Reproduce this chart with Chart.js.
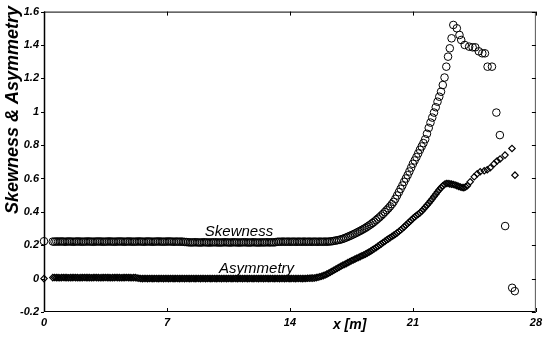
<!DOCTYPE html>
<html>
<head>
<meta charset="utf-8">
<script src="https://cdn.jsdelivr.net/npm/chart.js@4.4.1/dist/chart.umd.min.js"></script>
<style>
  html, body { margin: 0; padding: 0; background: #ffffff; }
  #wrap { width: 546px; height: 337px; }
</style>
</head>
<body>
<div id="wrap"><canvas id="c" width="546" height="337"></canvas></div>
<script>
// ---- data ----
const xTicks = [0, 7, 14, 21, 28];
const yTicks = [-0.2, 0, 0.2, 0.4, 0.6, 0.8, 1, 1.2, 1.4, 1.6];

// dense measuring stations (m), shared by both series
const stations = [
  0,
  0.5, 0.6, 0.7, 0.8, 0.9, 1.0, 1.1, 1.2, 1.3, 1.4,
  1.5, 1.6, 1.7, 1.8, 1.9, 2.0, 2.1, 2.2, 2.3, 2.4,
  2.5, 2.6, 2.7, 2.8, 2.9, 3.0, 3.1, 3.2, 3.3, 3.4,
  3.5, 3.6, 3.7, 3.8, 3.9, 4.0, 4.1, 4.2, 4.3, 4.4,
  4.5, 4.6, 4.7, 4.8, 4.9, 5.0, 5.1, 5.2, 5.3, 5.4,
  5.5, 5.6, 5.7, 5.8, 5.9, 6.0, 6.1, 6.2, 6.3, 6.4,
  6.5, 6.6, 6.7, 6.8, 6.9, 7.0, 7.1, 7.2, 7.3, 7.4,
  7.5, 7.6, 7.7, 7.8, 7.9, 8.0, 8.1, 8.2, 8.3, 8.4,
  8.5, 8.6, 8.7, 8.8, 8.9, 9.0, 9.1, 9.2, 9.3, 9.4,
  9.5, 9.6, 9.7, 9.8, 9.9, 10.0, 10.1, 10.2, 10.3, 10.4,
  10.5, 10.6, 10.7, 10.8, 10.9, 11.0, 11.1, 11.2, 11.3, 11.4,
  11.5, 11.6, 11.7, 11.8, 11.9, 12.0, 12.1, 12.2, 12.3, 12.4,
  12.5, 12.6, 12.7, 12.8, 12.9, 13.0, 13.1, 13.2, 13.3, 13.4,
  13.5, 13.6, 13.7, 13.8, 13.9, 14.0, 14.1, 14.2, 14.3, 14.4,
  14.5, 14.6, 14.7, 14.8, 14.9, 15.0, 15.1, 15.2, 15.3, 15.4,
  15.5, 15.6, 15.7, 15.8, 15.9, 16.0, 16.1, 16.2, 16.3, 16.4,
  16.5, 16.6, 16.7, 16.8, 16.9, 17.0, 17.1, 17.2, 17.3, 17.4,
  17.5, 17.6, 17.7, 17.8, 17.9, 18.0, 18.1, 18.2, 18.3, 18.4,
  18.5, 18.6, 18.7, 18.8, 18.9, 19.0, 19.1, 19.2, 19.3, 19.4,
  19.5, 19.6, 19.7, 19.8, 19.9, 20.0, 20.1, 20.2, 20.3, 20.4,
  20.5, 20.6, 20.7, 20.8, 20.9, 21.0, 21.1, 21.2, 21.3, 21.4,
  21.5, 21.6, 21.7, 21.8, 21.9, 22.0, 22.1, 22.2, 22.3, 22.4,
  22.5, 22.6, 22.7, 22.8, 22.9, 23.0, 23.1, 23.2, 23.3
];

const skewness = [
  0.224,
  0.222, 0.221, 0.223, 0.222, 0.222, 0.223, 0.222, 0.221, 0.222, 0.223,
  0.222, 0.222, 0.221, 0.222, 0.223, 0.222, 0.222, 0.221, 0.222, 0.222,
  0.223, 0.222, 0.222, 0.221, 0.222, 0.222, 0.223, 0.222, 0.222, 0.221,
  0.222, 0.222, 0.223, 0.222, 0.222, 0.221, 0.222, 0.222, 0.223, 0.222,
  0.222, 0.221, 0.222, 0.223, 0.222, 0.222, 0.221, 0.222, 0.222, 0.223,
  0.222, 0.222, 0.221, 0.222, 0.223, 0.222, 0.222, 0.221, 0.222, 0.222,
  0.223, 0.222, 0.222, 0.221, 0.222, 0.222, 0.223, 0.222, 0.222, 0.221,
  0.222, 0.222, 0.221, 0.222, 0.221, 0.220, 0.219, 0.218, 0.217, 0.217,
  0.217, 0.218, 0.217, 0.217, 0.216, 0.217, 0.218, 0.217, 0.217, 0.216,
  0.217, 0.217, 0.218, 0.217, 0.217, 0.216, 0.217, 0.217, 0.218, 0.217,
  0.217, 0.216, 0.217, 0.218, 0.217, 0.217, 0.216, 0.217, 0.217, 0.218,
  0.217, 0.217, 0.216, 0.217, 0.218, 0.217, 0.217, 0.216, 0.217, 0.217,
  0.217, 0.217, 0.218, 0.217, 0.217, 0.218, 0.217, 0.219, 0.221, 0.221,
  0.221, 0.222, 0.221, 0.221, 0.222, 0.221, 0.221, 0.222, 0.221, 0.221,
  0.222, 0.221, 0.221, 0.222, 0.221, 0.221, 0.222, 0.221, 0.221, 0.222,
  0.221, 0.221, 0.222, 0.221, 0.221, 0.222, 0.221, 0.222, 0.223, 0.224,
  0.226, 0.228, 0.230, 0.232, 0.235, 0.238, 0.242, 0.246, 0.251, 0.255,
  0.260, 0.265, 0.270, 0.275, 0.281, 0.286, 0.292, 0.298, 0.304, 0.311,
  0.318, 0.325, 0.333, 0.341, 0.350, 0.359, 0.368, 0.378, 0.388, 0.399,
  0.410, 0.421, 0.433, 0.446, 0.460, 0.478, 0.498, 0.518, 0.538, 0.558,
  0.580, 0.600, 0.620, 0.642, 0.665, 0.688, 0.708, 0.728, 0.750, 0.772,
  0.792, 0.812, 0.835, 0.868, 0.903, 0.935, 0.965, 0.995, 1.027, 1.060,
  1.090, 1.120, 1.160, 1.205, 1.270, 1.330, 1.380, 1.440, 1.520
];

const asymmetry = [
  0.000,
  0.006, 0.007, 0.006, 0.006, 0.005, 0.006, 0.007, 0.006, 0.006, 0.005,
  0.006, 0.006, 0.007, 0.006, 0.006, 0.005, 0.006, 0.006, 0.007, 0.006,
  0.006, 0.006, 0.005, 0.006, 0.007, 0.006, 0.006, 0.005, 0.006, 0.006,
  0.007, 0.006, 0.006, 0.005, 0.006, 0.006, 0.007, 0.006, 0.006, 0.005,
  0.006, 0.006, 0.007, 0.006, 0.006, 0.005, 0.006, 0.006, 0.004, 0.002,
  0.001, 0.000, 0.001, 0.001, 0.000, 0.001, 0.001, 0.000, 0.001, 0.001,
  0.000, 0.001, 0.001, 0.000, 0.001, 0.001, 0.000, 0.001, 0.001, 0.000,
  0.001, 0.001, 0.000, 0.001, 0.001, 0.000, 0.001, 0.001, 0.000, 0.001,
  0.001, 0.000, 0.001, 0.001, 0.000, 0.001, 0.001, 0.000, 0.001, 0.001,
  0.000, 0.001, 0.001, 0.000, 0.001, 0.001, 0.000, 0.001, 0.001, 0.000,
  0.001, 0.001, 0.000, 0.001, 0.001, 0.000, 0.001, 0.001, 0.000, 0.001,
  0.001, 0.000, 0.001, 0.001, 0.000, 0.001, 0.001, 0.000, 0.001, 0.001,
  0.000, 0.001, 0.001, 0.000, 0.001, 0.001, 0.000, 0.001, 0.001, 0.000,
  0.001, 0.001, 0.000, 0.001, 0.001, 0.000, 0.001, 0.001, 0.000, 0.001,
  0.001, 0.001, 0.000, 0.001, 0.001, 0.002, 0.002, 0.003, 0.003, 0.004,
  0.006, 0.008, 0.011, 0.014, 0.018, 0.022, 0.027, 0.032, 0.038, 0.044,
  0.050, 0.056, 0.062, 0.068, 0.074, 0.080, 0.085, 0.090, 0.096, 0.101,
  0.107, 0.112, 0.117, 0.122, 0.127, 0.132, 0.137, 0.142, 0.147, 0.153,
  0.159, 0.165, 0.172, 0.179, 0.186, 0.193, 0.201, 0.208, 0.216, 0.223,
  0.231, 0.238, 0.245, 0.252, 0.259, 0.266, 0.274, 0.282, 0.291, 0.300,
  0.310, 0.320, 0.330, 0.340, 0.350, 0.360, 0.369, 0.378, 0.386, 0.394,
  0.404, 0.416, 0.428, 0.440, 0.452, 0.465, 0.478, 0.492, 0.506, 0.520,
  0.533, 0.545, 0.556, 0.565, 0.570, 0.570, 0.568, 0.566, 0.564
];

// sparser points beyond the dense stations
const skewTailX = [23.5, 23.65, 23.75, 23.95, 24.2, 24.4, 24.55, 24.75, 24.95, 25.1, 25.25, 25.5, 25.75, 25.95, 26.25, 26.65, 26.8];
const skewTailY = [1.50, 1.46, 1.43, 1.40, 1.39, 1.386, 1.386, 1.362, 1.35, 1.35, 1.27, 1.27, 0.995, 0.86, 0.315, -0.055, -0.075];

const asymTailX = [23.4, 23.5, 23.6, 23.7, 23.8, 23.9, 24.0, 24.1, 24.26, 24.49, 24.66, 24.83, 25.06, 25.23, 25.4, 25.62, 25.79, 25.96, 26.24, 26.64, 26.81];
const asymTailY = [0.561, 0.557, 0.553, 0.549, 0.546, 0.545, 0.550, 0.557, 0.580, 0.610, 0.628, 0.640, 0.646, 0.652, 0.664, 0.688, 0.705, 0.717, 0.740, 0.780, 0.620];

// ---- build point tables ----
const skewPts = stations.map((x, i) => ({ x: x, y: skewness[i] }))
  .concat(skewTailX.map((x, i) => ({ x: x, y: skewTailY[i] })));
const asymPts = stations.map((x, i) => ({ x: x, y: asymmetry[i] }))
  .concat(asymTailX.map((x, i) => ({ x: x, y: asymTailY[i] })));

const FONT = "'Liberation Sans', Arial, Helvetica, sans-serif";

const framePlugin = {
  id: 'frame',
  afterDatasetsDraw(chart) {
    const { ctx, chartArea: a, scales } = chart;
    const xs = scales.x, ys = scales.y;
    ctx.save();
    ctx.strokeStyle = '#000';
    ctx.lineWidth = 1;
    ctx.beginPath();
    ctx.moveTo(a.left + 0.5, a.top + 0.5);
    ctx.lineTo(a.right - 0.5, a.top + 0.5);
    ctx.moveTo(a.left + 0.5, a.bottom - 0.5);
    ctx.lineTo(a.right - 0.5, a.bottom - 0.5);
    ctx.stroke();
    ctx.lineWidth = 1.5;
    ctx.beginPath();
    ctx.moveTo(a.left + 0.5, a.top);
    ctx.lineTo(a.left + 0.5, a.bottom);
    ctx.stroke();
    ctx.lineWidth = 1;
    ctx.strokeStyle = '#555';
    ctx.beginPath();
    ctx.moveTo(a.right - 0.5, a.top);
    ctx.lineTo(a.right - 0.5, a.bottom);
    ctx.stroke();
    ctx.strokeStyle = '#000';
    ctx.beginPath();
    const tl = 4;
    xTicks.forEach(v => {
      const px = Math.round(xs.getPixelForValue(v)) + 0.5;
      ctx.moveTo(px, a.bottom); ctx.lineTo(px, a.bottom - tl);
      ctx.moveTo(px, a.top); ctx.lineTo(px, a.top + tl);
    });
    yTicks.forEach(v => {
      const py = Math.round(ys.getPixelForValue(v)) + 0.5;
      ctx.moveTo(a.left, py); ctx.lineTo(a.left - 3, py);
      ctx.moveTo(a.right, py); ctx.lineTo(a.right - tl, py);
    });
    ctx.stroke();

    ctx.fillStyle = '#000';
    ctx.font = 'italic bold 18px ' + FONT;
    ctx.textAlign = 'center';
    ctx.textBaseline = 'middle';
    ctx.save();
    ctx.translate(13, 110);
    ctx.rotate(-Math.PI / 2);
    ctx.fillText('Skewness & Asymmetry', 0, 0);
    ctx.restore();

    ctx.font = 'italic bold 14px ' + FONT;
    ctx.fillText('x [m]', xs.getPixelForValue(17.4), a.bottom + 13);

    ctx.font = 'italic 15px ' + FONT;
    ctx.textBaseline = 'alphabetic';
    ctx.fillText('Skewness', xs.getPixelForValue(11.1), ys.getPixelForValue(0.256));
    ctx.fillText('Asymmetry', xs.getPixelForValue(12.1), ys.getPixelForValue(0.031));
    ctx.restore();
  }
};

new Chart(document.getElementById('c'), {
  type: 'scatter',
  data: {
    datasets: [
      {
        label: 'Skewness',
        data: skewPts,
        pointStyle: 'circle',
        pointRadius: 3.8,
        pointBorderWidth: 1,
        borderColor: '#000',
        backgroundColor: 'rgba(0,0,0,0)',
        pointBackgroundColor: 'rgba(0,0,0,0)',
        pointBorderColor: '#000',
        clip: false
      },
      {
        label: 'Asymmetry',
        data: asymPts,
        pointStyle: 'rectRot',
        pointRadius: 3.2,
        pointBorderWidth: 1.2,
        borderColor: '#000',
        backgroundColor: 'rgba(0,0,0,0)',
        pointBackgroundColor: 'rgba(0,0,0,0)',
        pointBorderColor: '#000',
        clip: false
      }
    ]
  },
  options: {
    responsive: false,
    animation: false,
    devicePixelRatio: 1,
    layout: { padding: { top: 8, right: 7, left: 0, bottom: 0 } },
    plugins: {
      legend: { display: false },
      tooltip: { enabled: false },
      title: { display: false }
    },
    scales: {
      x: {
        type: 'linear',
        min: 0, max: 28,
        grid: { display: false, drawTicks: false },
        border: { display: false },
        afterBuildTicks: s => { s.ticks = xTicks.map(v => ({ value: v })); },
        afterFit: s => { s.height = 25; },
        ticks: {
          color: '#000',
          padding: 4,
          maxRotation: 0,
          font: { family: FONT, size: 11, style: 'italic', weight: 'bold' },
          callback: v => String(v)
        }
      },
      y: {
        type: 'linear',
        min: -0.2, max: 1.6,
        grid: { display: false, drawTicks: false },
        border: { display: false },
        afterBuildTicks: s => { s.ticks = yTicks.map(v => ({ value: v })); },
        afterFit: s => { s.width = 44; },
        ticks: {
          color: '#000',
          padding: 5,
          font: { family: FONT, size: 11, style: 'italic', weight: 'bold' },
          callback: v => String(Math.round(v * 10) / 10)
        }
      }
    }
  },
  plugins: [framePlugin]
});
</script>
</body>
</html>
